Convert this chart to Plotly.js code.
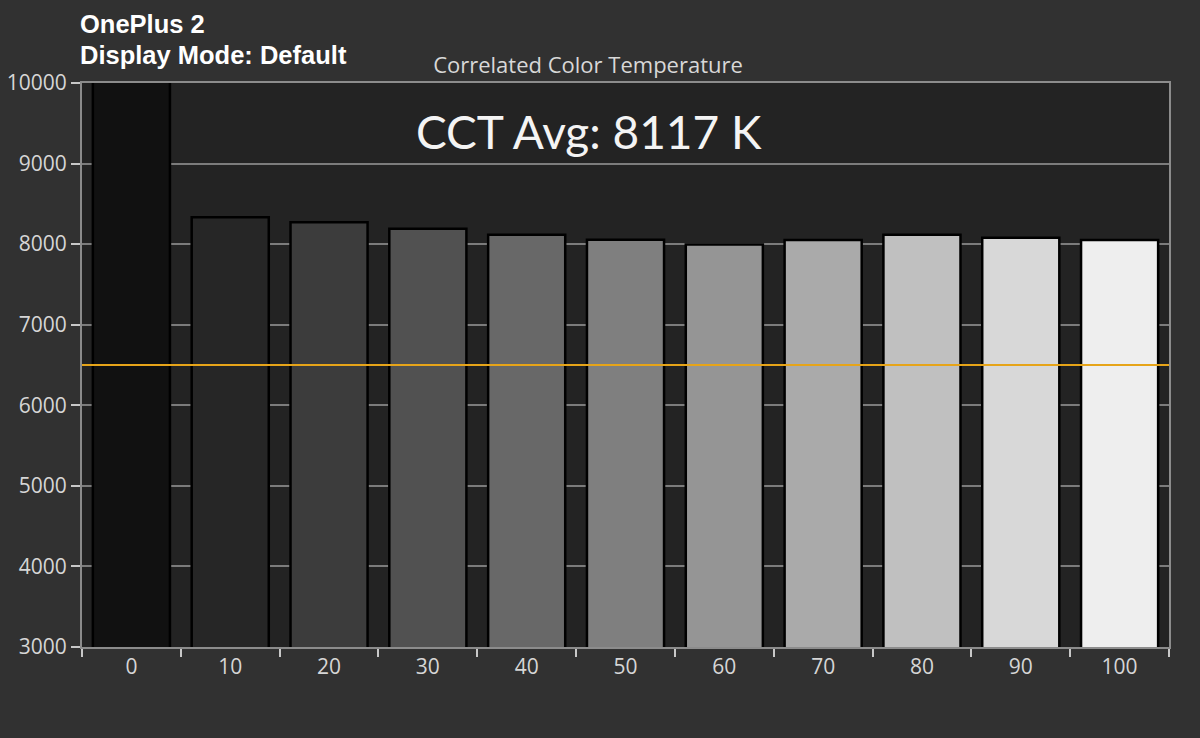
<!DOCTYPE html>
<html>
<head>
<meta charset="utf-8">
<script src="https://cdn.plot.ly/plotly-3.0.1.min.js"></script>
<style>
  html, body { margin: 0; padding: 0; background: #313131; }
  #myDiv { width: 1200px; height: 738px; }
</style>
</head>
<body>
<div id="myDiv"></div>
<script>
// grayscale stimulus level (%) and measured CCT (K)
var levels = ['0', '10', '20', '30', '40', '50', '60', '70', '80', '90', '100'];
var cct = [12000, 8335, 8273, 8190, 8116, 8054, 7995, 8050, 8116, 8078, 8050];
var target = 6500;
var yTicks = [3000, 4000, 5000, 6000, 7000, 8000, 9000, 10000];

// bar fill follows the gray level
var barColors = ['#111111', '#262626', '#3c3c3c', '#515151', '#686868', '#7f7f7f',
                 '#959595', '#aaaaaa', '#c0c0c0', '#d8d8d8', '#eeeeee'];

var tickFont = { family: 'Open Sans, sans-serif', size: 21, color: '#d6d6d6' };

var trace1 = {
  x: levels,
  y: cct,
  type: 'bar',
  marker: {
    color: barColors,
    line: { color: '#000000', width: 2.5 }
  },
  hoverinfo: 'x+y'
};

var layout = {
  width: 1200,
  height: 738,
  margin: { l: 82, r: 31, t: 83, b: 91 },
  paper_bgcolor: '#313131',
  plot_bgcolor: '#232323',
  showlegend: false,
  bargap: 0.22,
  title: {
    text: 'Correlated Color Temperature',
    font: { family: 'Open Sans, sans-serif', size: 22, color: '#d8d8d8' },
    xref: 'container',
    x: 0.49,
    xanchor: 'center',
    yref: 'container',
    y: 0.912,
    yanchor: 'middle'
  },
  xaxis: {
    type: 'category',
    tickfont: tickFont,
    ticks: 'outside',
    tickson: 'boundaries',
    ticklen: 8,
    tickwidth: 2,
    tickcolor: '#c8c8c8',
    showgrid: false,
    showline: true,
    linecolor: '#8c8c8c',
    linewidth: 2,
    mirror: true,
    fixedrange: true
  },
  yaxis: {
    range: [3000, 10000],
    tickvals: yTicks,
    tickformat: 'd',
    tickfont: tickFont,
    ticks: 'outside',
    ticklen: 9,
    tickwidth: 2,
    tickcolor: '#c8c8c8',
    gridcolor: '#7c7c7c',
    gridwidth: 2,
    zeroline: false,
    showline: true,
    linecolor: '#8c8c8c',
    linewidth: 2,
    mirror: true,
    fixedrange: true
  },
  shapes: [{
    type: 'line',
    xref: 'paper', x0: 0, x1: 1,
    yref: 'y', y0: target, y1: target,
    line: { color: '#e6a419', width: 2 }
  }],
  annotations: [
    {
      text: '<b>OnePlus 2</b>',
      xref: 'paper', yref: 'paper',
      x: -0.004, xanchor: 'left',
      y: 1.105, yanchor: 'middle',
      showarrow: false,
      font: { family: 'Liberation Sans, Arial, sans-serif', size: 25.5, color: '#ffffff' }
    },
    {
      text: '<b>Display Mode: Default</b>',
      xref: 'paper', yref: 'paper',
      x: -0.004, xanchor: 'left',
      y: 1.05, yanchor: 'middle',
      showarrow: false,
      font: { family: 'Liberation Sans, Arial, sans-serif', size: 25.5, color: '#ffffff' }
    },
    {
      text: 'CCT Avg: 8117 K',
      xref: 'paper', yref: 'paper',
      x: 0.466, xanchor: 'center',
      y: 0.914, yanchor: 'middle',
      showarrow: false,
      font: { family: 'Lato, sans-serif', size: 46, color: '#f4f4f4' }
    }
  ]
};

Plotly.newPlot('myDiv', [trace1], layout, { displayModeBar: false, staticPlot: true });
</script>
</body>
</html>
